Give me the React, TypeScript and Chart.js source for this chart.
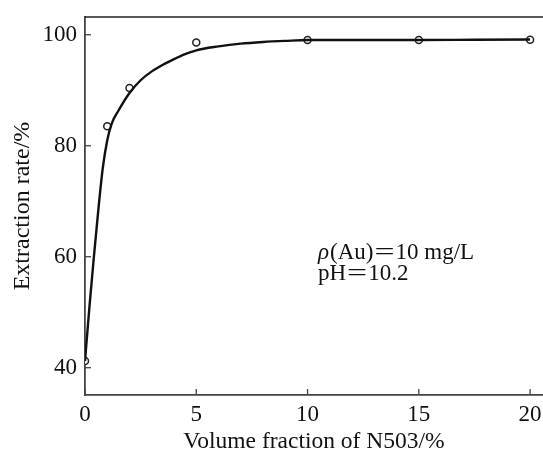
import React, { useEffect, useRef } from "react";
import { Chart, registerables } from "chart.js";

Chart.register(...registerables);

const pointX = [0, 1, 2, 5, 10, 15, 20];
const pointY = [41.2, 83.5, 90.4, 98.6, 99.05, 99.05, 99.1];

const curveX = [0, 0.2, 0.4, 0.6, 0.8, 1.0, 1.2, 1.5, 2, 2.5, 3, 3.5, 4, 4.5, 5, 6, 7, 8, 9, 10, 12.5, 15, 17.5, 20];
const curveY = [41.2, 51, 60, 68.5, 76, 81, 84, 86.3, 89.5, 91.8, 93.4, 94.6, 95.6, 96.5, 97.2, 97.9, 98.4, 98.7, 98.9, 99.05, 99.05, 99.05, 99.1, 99.15];

const xTicks = [0, 5, 10, 15, 20];
const yTicks = [40, 60, 80, 100];

const xTitle = "Volume fraction of N503/%";
const yTitle = "Extraction rate/%";
// annotation pieces: [text, italic, widen]
const noteLine1: [string, boolean, boolean][] = [
  ["ρ", true, false],
  ["(Au)", false, false],
  ["=", false, true],
  ["10 mg/L", false, false],
];
const noteLine2: [string, boolean, boolean][] = [
  ["pH", false, false],
  ["=", false, true],
  ["10.2", false, false],
];

const FONT = "'Liberation Serif', 'Times New Roman', serif";

const zeroPad = (axis: any) => {
  axis.paddingLeft = 0;
  axis.paddingRight = 0;
  axis.paddingTop = 0;
  axis.paddingBottom = 0;
};

const drawPieces = (ctx: any, pieces: [string, boolean, boolean][], x: number, y: number) => {
  let cx = x;
  pieces.forEach(([t, it, wide]) => {
    ctx.font = `${it ? "italic " : ""}23px ${FONT}`;
    const w = ctx.measureText(t).width;
    if (wide) {
      const sx = 1.55;
      cx += 1;
      ctx.save();
      ctx.translate(cx, y);
      ctx.scale(sx, 1);
      ctx.fillText(t, 0, 0);
      ctx.restore();
      cx += w * sx + 1;
    } else {
      ctx.fillText(t, cx, y);
      cx += w + (it ? 1 : 0);
    }
  });
};

const customPlugin = {
  id: "custom",
  afterDraw(chart: any) {
    const { ctx, chartArea, scales } = chart;
    const xs = scales.x;
    const ys = scales.y;
    ctx.save();
    ctx.strokeStyle = "#222";
    ctx.lineWidth = 1.6;
    ctx.beginPath();
    ctx.moveTo(chartArea.left, chartArea.top);
    ctx.lineTo(chartArea.right, chartArea.top);
    ctx.stroke();
    ctx.strokeStyle = "#444";
    ctx.lineWidth = 1.3;
    xTicks.forEach((v) => {
      const px = xs.getPixelForValue(v);
      ctx.beginPath();
      ctx.moveTo(px, chartArea.bottom);
      ctx.lineTo(px, chartArea.bottom - 6);
      ctx.stroke();
    });
    yTicks.forEach((v) => {
      const py = ys.getPixelForValue(v);
      ctx.beginPath();
      ctx.moveTo(chartArea.left, py);
      ctx.lineTo(chartArea.left + 6, py);
      ctx.stroke();
    });
    const ax = xs.getPixelForValue(10.47);
    const ay = ys.getPixelForValue(59.6);
    ctx.fillStyle = "#111";
    ctx.textBaseline = "alphabetic";
    ctx.textAlign = "left";
    drawPieces(ctx, noteLine1, ax, ay);
    drawPieces(ctx, noteLine2, ax, ay + 21);
    ctx.restore();
  },
};

export default function App() {
  const ref = useRef<HTMLCanvasElement>(null);
  useEffect(() => {
    if (!ref.current) return;
    const chart = new Chart(ref.current, {
      type: "scatter",
      data: {
        datasets: [
          {
            type: "line",
            data: curveX.map((x, i) => ({ x, y: curveY[i] })),
            borderColor: "#111",
            borderWidth: 2.4,
            pointRadius: 0,
            cubicInterpolationMode: "monotone",
            fill: false,
          } as any,
          {
            data: pointX.map((x, i) => ({ x, y: pointY[i] })),
            pointRadius: 3.5,
            pointBackgroundColor: "#fff",
            pointBorderColor: "#222",
            pointBorderWidth: 1.5,
            showLine: false,
          },
        ],
      },
      options: {
        animation: false,
        responsive: false,
        maintainAspectRatio: false,
        layout: { autoPadding: false, padding: { left: 0, right: 0, top: 17, bottom: 0 } },
        plugins: { legend: { display: false }, tooltip: { enabled: false } },
        scales: {
          x: {
            type: "linear",
            min: 0,
            max: 20.58,
            afterBuildTicks: (axis: any) => {
              axis.ticks = xTicks.map((v) => ({ value: v }));
            },
            afterFit: (axis: any) => {
              axis.height = 61;
              zeroPad(axis);
            },
            grid: { display: false, drawTicks: false },
            border: { display: true, color: "#444", width: 1.8 },
            ticks: {
              color: "#111",
              padding: 6,
              font: { family: FONT, size: 23 },
              maxRotation: 0,
            },
            title: {
              display: true,
              text: xTitle,
              color: "#111",
              font: { family: FONT, size: 23.5 },
              padding: { top: 2, bottom: 0 },
            },
          },
          y: {
            type: "linear",
            min: 35.08,
            max: 103.2,
            afterBuildTicks: (axis: any) => {
              axis.ticks = yTicks.map((v) => ({ value: v }));
            },
            afterFit: (axis: any) => {
              axis.width = 85;
              zeroPad(axis);
            },
            grid: { display: false, drawTicks: false },
            border: { display: true, color: "#444", width: 1.8 },
            ticks: {
              color: "#111",
              padding: 8,
              font: { family: FONT, size: 23 },
            },
            title: {
              display: true,
              text: yTitle,
              color: "#111",
              font: { family: FONT, size: 24 },
              padding: { top: 8, bottom: 0 },
            },
          },
        },
      },
      plugins: [customPlugin],
    } as any);
    return () => chart.destroy();
  }, []);
  return (
    <div style={{ position: "fixed", left: 0, top: 0, width: 543, height: 456, background: "#fff" }}>
      <canvas ref={ref} width={543} height={456} style={{ display: "block" }} />
    </div>
  );
}
